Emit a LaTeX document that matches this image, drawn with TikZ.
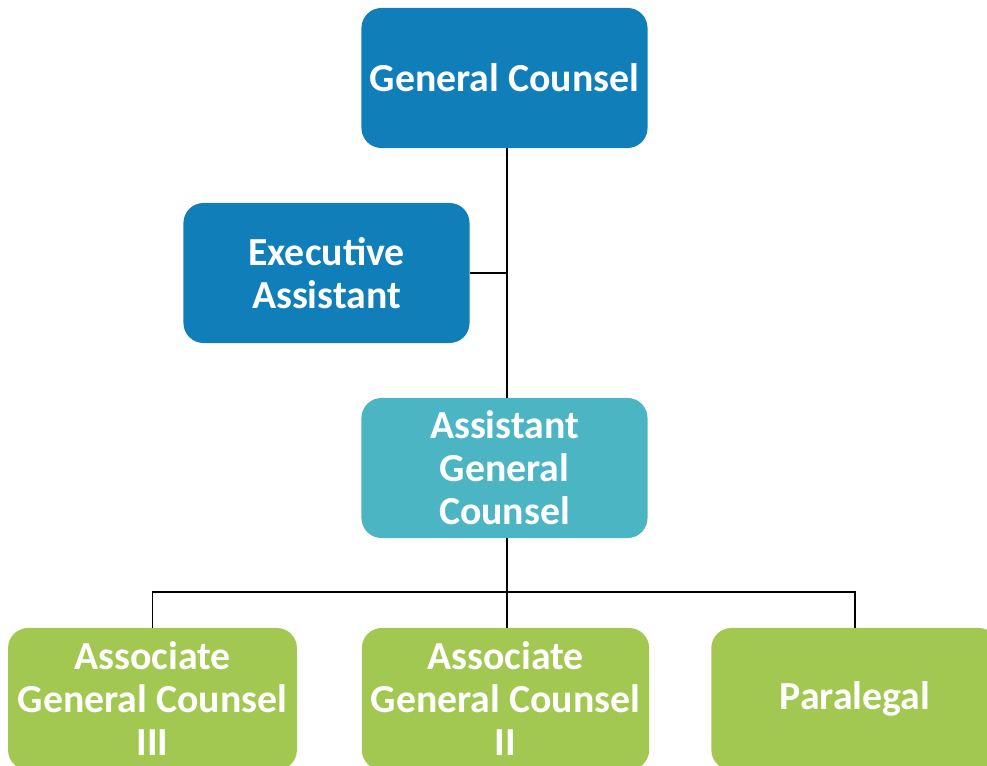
\documentclass[tikz,border=0pt]{standalone}
\usepackage{fontspec}
\setmainfont{Carlito}
\definecolor{topblue}{RGB}{16,126,184}
\definecolor{midteal}{RGB}{76,181,196}
\definecolor{leafgreen}{RGB}{162,200,82}

\begin{document}
\begin{tikzpicture}[x=0.025cm,y=-0.025cm]
\tikzset{box/.style={rounded corners=0.5cm,inner sep=0pt,text=white,align=center,
  font=\fontsize{28.3}{30.6}\selectfont\bfseries,minimum width=7.15cm,minimum height=3.5cm},
  link/.style={draw=black,line width=1.4pt}}
\clip (0,0) rectangle (987,766);
\node [box,fill=topblue] (gc) at (504.5,78) {General Counsel};
\node [box,fill=topblue] (ea) at (326.5,273) {Executive\\Assistant};
\node [box,fill=midteal] (agc) at (504.5,468) {Assistant\\General\\Counsel};
\node [box,fill=leafgreen,minimum width=7.22cm,minimum height=3.55cm] (ag3) at (152.5,699) {Associate\\General Counsel\\III};
\node [box,fill=leafgreen,minimum width=7.18cm,minimum height=3.55cm] (ag2) at (505.5,699) {Associate\\General Counsel\\II};
\node [box,fill=leafgreen,minimum width=7.18cm,minimum height=3.55cm] (para) at (855,699) {\raisebox{-6pt}{Paralegal}};
\coordinate (bus) at (507,592);
\draw [link] (gc.south -| 507,0) -- (agc.north -| 507,0);
\draw [link] (ea.east) -- (ea.east -| 507,0);
\draw [link] (agc.south -| 507,0) -- (bus);
\draw [link] (ag3.north) -- (ag3.north |- bus) -- (para.north |- bus) -- (para.north);
\draw [link] (bus) -- (ag2.north -| bus);
\end{tikzpicture}
\end{document}
